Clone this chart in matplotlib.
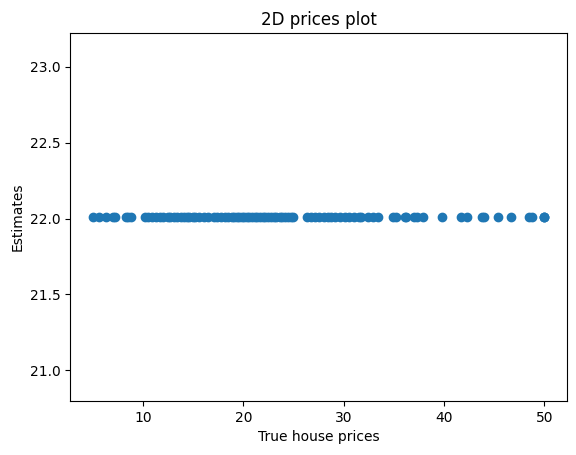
import matplotlib
matplotlib.use("Agg")
import matplotlib.pyplot as plt

true_prices = [5.0, 5.6, 6.3, 7.0, 7.2, 8.3, 8.5, 8.8, 10.2, 10.5, 10.9, 11.3, 11.7, 12.0,
               12.5, 12.7, 13.1, 13.4, 13.8, 14.1, 14.4, 14.6, 15.0, 15.2, 15.6, 16.1, 16.5,
               17.1, 17.4, 17.8, 18.2, 18.5, 18.9, 19.1, 19.4, 19.6, 19.9, 20.1, 20.4, 20.6,
               20.9, 21.2, 21.4, 21.7, 22.0, 22.2, 22.5, 22.8, 23.1, 23.3, 23.7, 23.9, 24.2,
               24.5, 24.8, 25.0, 26.4, 26.7, 27.1, 27.5, 28.0, 28.4, 28.7, 29.1, 29.6, 30.1,
               30.5, 31.0, 31.5, 31.7, 32.4, 32.9, 33.4, 34.9, 35.2, 36.1, 36.2, 37.0, 37.3,
               37.9, 39.8, 41.7, 42.3, 43.8, 44.0, 45.4, 46.7, 48.5, 48.8, 50.0, 50.0, 50.0]
estimate = 22.01
estimates = [estimate] * len(true_prices)

fig, ax = plt.subplots(figsize=(5.76, 4.55), dpi=100)
fig.subplots_adjust(left=0.122, right=0.984, top=0.927, bottom=0.119)
ax.scatter(true_prices, estimates)
ax.set_title("2D prices plot")
ax.set_xlabel("True house prices")
ax.set_ylabel("Estimates")
fig.savefig("out.png")
